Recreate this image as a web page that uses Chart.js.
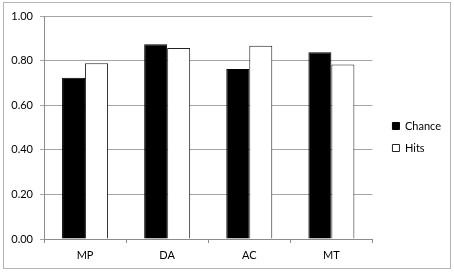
<!DOCTYPE html>
<html>
<head>
<meta charset="utf-8">
<script src="https://cdn.jsdelivr.net/npm/chart.js@4.4.0/dist/chart.umd.min.js"></script>
<style>
  html, body { margin: 0; padding: 0; background: #fff; }
  #frame { position: absolute; left: 3px; top: 2px; width: 446px; height: 265px; border: 1px solid #b4b4b4; }
  #wrap { position: absolute; left: 0; top: 0; width: 454px; height: 274px; }
</style>
</head>
<body>
<div id="frame"></div>
<div id="wrap"><canvas id="chart" width="454" height="274"></canvas></div>
<script>
// data
const categories = ['MP', 'DA', 'AC', 'MT'];
const chance = [0.723, 0.873, 0.762, 0.837];
const hits = [0.788, 0.857, 0.867, 0.783];
const yTicks = [0, 0.2, 0.4, 0.6, 0.8, 1.0];

Chart.defaults.font.family = 'Lato, "Liberation Sans", sans-serif';
Chart.defaults.font.size = 11;
Chart.defaults.color = '#000';

// nudge legend a bit away from the plot, like the Excel original
const legendShift = {
  id: 'legendShift',
  afterLayout(chart) {
    chart.legend.left += 9;
    chart.legend.right += 9;
    chart.legend.top -= 8;
    chart.legend.bottom -= 8;
  }
};

new Chart(document.getElementById('chart'), {
  type: 'bar',
  data: {
    labels: categories,
    datasets: [
      { label: 'Chance', data: chance, backgroundColor: '#000', borderColor: '#000', borderWidth: 1 },
      { label: 'Hits', data: hits, backgroundColor: '#fff', borderColor: '#222', borderWidth: 1 }
    ]
  },
  options: {
    responsive: false,
    animation: false,
    layout: { padding: { top: 16, right: 12, bottom: 0, left: 0 } },
    datasets: { bar: { barPercentage: 1, categoryPercentage: 0.56 } },
    plugins: {
      tooltip: { enabled: false },
      legend: {
        position: 'right',
        labels: { boxWidth: 7, boxHeight: 7, padding: 11, color: '#000' }
      }
    },
    scales: {
      x: {
        grid: { drawOnChartArea: false, tickLength: 4, color: '#8c8c8c' },
        border: { color: '#8c8c8c' },
        ticks: { padding: 6 },
        afterFit(s) { s.height = 35; }
      },
      y: {
        min: 0,
        max: 1,
        afterBuildTicks(s) { s.ticks = yTicks.map(v => ({ value: v })); },
        ticks: { callback: v => v.toFixed(2), padding: 7 },
        grid: { color: '#a6a6a6', tickLength: 4 },
        border: { color: '#8c8c8c' },
        afterFit(s) { s.width = 44; }
      }
    }
  },
  plugins: [legendShift]
});
</script>
</body>
</html>
